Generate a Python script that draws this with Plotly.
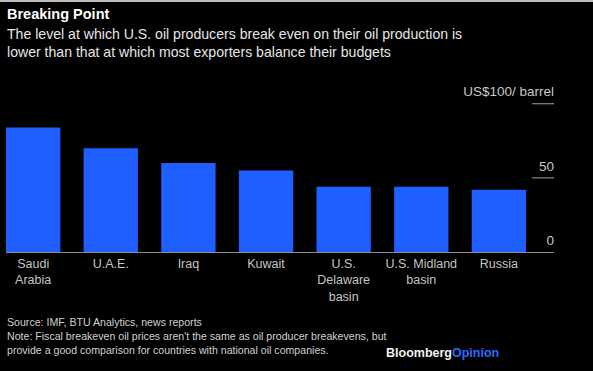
import plotly.graph_objects as go

categories = ["Saudi<br>Arabia", "U.A.E.", "Iraq", "Kuwait", "U.S.<br>Delaware<br>basin", "U.S. Midland<br>basin", "Russia"]
breakeven = [84, 70, 60, 55, 44, 44, 42]
tick_vals = [0, 50, 100]
tick_text = ["0", "50", "US$100/ barrel"]

FONT = "Liberation Sans, Arial, sans-serif"
BAR = "#1F5EFF"

T, B, L, R = 80, 119, 6, 39
PH = 371 - T - B
PW = 593 - L - R
PX_PER_UNIT = 1.483
Y_TOP = PH / PX_PER_UNIT


def py(pix):
    """convert pixel-from-top to paper y"""
    return (371 - B - pix) / PH


def px(pix):
    return (pix - L) / PW


fig = go.Figure(go.Bar(
    x=list(range(len(categories))), y=breakeven,
    marker=dict(color=BAR, line=dict(width=0)),
    width=0.7, hoverinfo="skip",
))

fig.update_layout(
    width=593, height=371,
    paper_bgcolor="black", plot_bgcolor="black",
    margin=dict(l=L, r=R, t=T, b=B),
    showlegend=False,
    font=dict(family=FONT, color="#c8c8c8"),
    xaxis=dict(
        range=[-0.35, 6.71],
        tickvals=list(range(len(categories))), ticktext=categories,
        showgrid=False, zeroline=False,
        showline=True, linecolor="#8a8a8a", linewidth=1.2,
        ticks="", tickfont=dict(size=12.5, color="#c4c4c4"),
        fixedrange=True,
    ),
    yaxis=dict(
        range=[0, Y_TOP], side="left", anchor="free", position=1.0,
        tickvals=tick_vals, ticktext=tick_text,
        ticklabelposition="outside", ticklabelshift=-12, ticklabelstandoff=0,
        showgrid=False, zeroline=False, showline=False, ticks="",
        tickfont=dict(size=13.5, color="#c8c8c8"),
        fixedrange=True, automargin=False,
    ),
)

for v in tick_vals[1:]:
    fig.add_shape(type="line", xref="paper", yref="y", x0=0.96, x1=1.0, y0=v, y1=v,
                  line=dict(color="#8a8a8a", width=1.2))

# thin light border at very top of image
fig.add_shape(type="line", xref="paper", yref="paper", x0=px(0), x1=px(593), y0=py(1), y1=py(1),
              line=dict(color="#bdbdbd", width=2))

fig.add_annotation(xref="paper", yref="paper", x=px(5), y=py(4),
                   xanchor="left", yanchor="top", showarrow=False,
                   text="<b>Breaking Point</b>", font=dict(size=14.5, color="white", family=FONT))
fig.add_annotation(xref="paper", yref="paper", x=px(5), y=py(24),
                   xanchor="left", yanchor="top", showarrow=False, align="left",
                   text="The level at which U.S. oil producers break even on their oil production is<br>lower than that at which most exporters balance their budgets",
                   font=dict(size=14.1, color="#e6e6e6", family=FONT))
fig.add_annotation(xref="paper", yref="paper", x=px(5), y=py(314),
                   xanchor="left", yanchor="top", showarrow=False, align="left",
                   text="Source: IMF, BTU Analytics, news reports<br>Note: Fiscal breakeven oil prices aren't the same as oil producer breakevens, but<br>provide a good comparison for countries with national oil companies.",
                   font=dict(size=10.6, color="#d0d0d0", family=FONT))
fig.add_annotation(xref="paper", yref="paper", x=px(384), y=py(353),
                   xanchor="left", yanchor="middle", showarrow=False,
                   text="<b>Bloomberg</b><b><span style='color:#2B6BFF'>Opinion</span></b>",
                   font=dict(size=12.5, color="#f0f0f0", family=FONT))

fig.write_html("out.html", config={"displayModeBar": False},
               post_script="document.body.style.margin='0';document.body.style.background='black';")
